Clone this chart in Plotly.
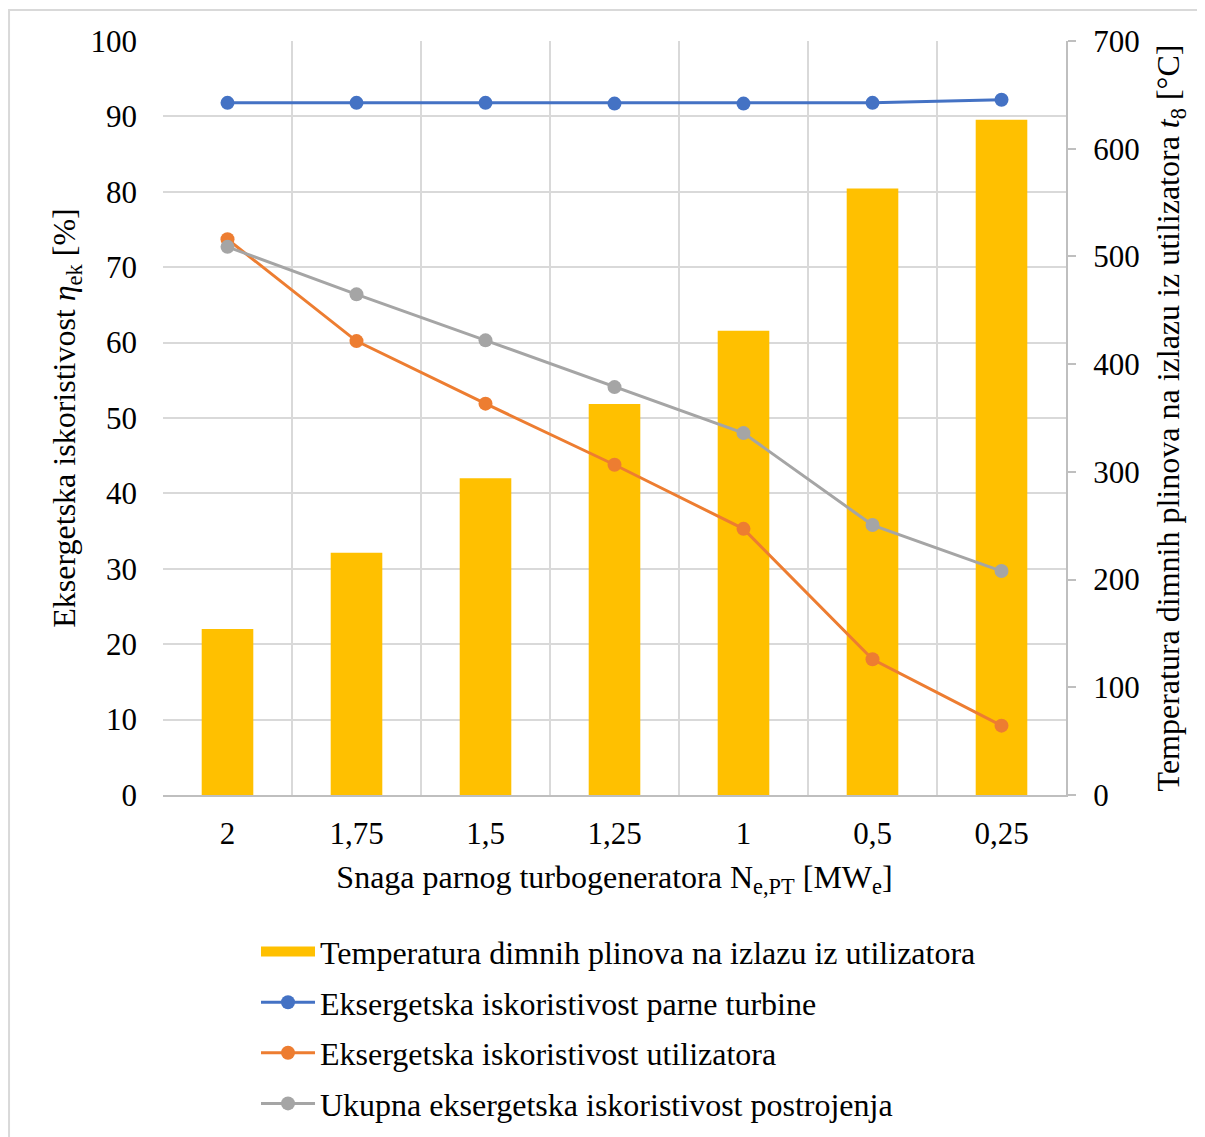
import plotly.graph_objects as go

# snaga parnog turbogeneratora [MWe]
snaga = ["2", "1,75", "1,5", "1,25", "1", "0,5", "0,25"]

# temperatura dimnih plinova na izlazu iz utilizatora [°C]
temp_t8 = [154, 225, 294, 363, 431, 563, 627]

# eksergetske iskoristivosti [%]
eta_pt = [91.8, 91.8, 91.8, 91.7, 91.7, 91.8, 92.2]
eta_util = [73.7, 60.2, 51.9, 43.8, 35.3, 18.0, 9.2]
eta_ukupno = [72.7, 66.4, 60.3, 54.1, 48.0, 35.8, 29.7]

FONT = "Liberation Serif, Times New Roman, serif"
GRID = "#d9d9d9"
AXIS = "#bfbfbf"
TICK = 31
TXT = 32

fig = go.Figure()

fig.add_trace(
    go.Bar(
        x=snaga,
        y=temp_t8,
        name="Temperatura dimnih plinova na izlazu iz utilizatora",
        marker=dict(color="#FFC000", line=dict(width=0)),
        yaxis="y",
        showlegend=False,
        legendgroup="a",
    )
)
# legenda za stupce kao siroki pravokutnik
fig.add_trace(
    go.Scatter(
        x=[None],
        y=[None],
        name="Temperatura dimnih plinova na izlazu iz utilizatora",
        mode="lines",
        line=dict(color="#FFC000", width=10),
        yaxis="y",
        legendgroup="a",
    )
)

linije = [
    (eta_pt, "Eksergetska iskoristivost parne turbine", "#4472C4", "b"),
    (eta_util, "Eksergetska iskoristivost utilizatora", "#ED7D31", "c"),
    (eta_ukupno, "Ukupna eksergetska iskoristivost postrojenja", "#A5A5A5", "d"),
]
for vals, name, color, grp in linije:
    fig.add_trace(
        go.Scatter(
            x=snaga,
            y=vals,
            name=name,
            mode="lines+markers",
            line=dict(color=color, width=3),
            marker=dict(color=color, size=14),
            yaxis="y2",
            legendgroup=grp,
        )
    )

fig.update_layout(
    width=1197,
    height=1129,
    paper_bgcolor="white",
    plot_bgcolor="white",
    margin=dict(l=155, r=139, t=33, b=342, autoexpand=False),
    font=dict(family=FONT, size=TXT, color="black"),
    bargap=0.6,
    showlegend=True,
    legend=dict(
        x=0.103,
        xanchor="left",
        y=-0.1715,
        yanchor="top",
        font=dict(size=TXT),
        itemwidth=54,
        tracegroupgap=6,
        traceorder="grouped",
        bgcolor="rgba(0,0,0,0)",
    ),
    xaxis=dict(
        type="category",
        tickson="boundaries",
        ticks="",
        showgrid=True,
        gridcolor=GRID,
        gridwidth=2,
        showline=True,
        linecolor=AXIS,
        linewidth=2,
        tickfont=dict(size=TICK),
        ticklabelstandoff=10,
        title=dict(
            text="Snaga parnog turbogeneratora N<sub>e,PT</sub> [MW<sub>e</sub>]",
            font=dict(size=TXT),
            standoff=15,
        ),
    ),
    # desna os - temperatura (stupci)
    yaxis=dict(
        side="right",
        range=[0, 700],
        dtick=100,
        showgrid=False,
        zeroline=False,
        showline=True,
        linecolor=AXIS,
        linewidth=2,
        ticks="outside",
        ticklen=8,
        tickcolor=AXIS,
        tickwidth=2,
        tickfont=dict(size=TICK),
        ticklabelstandoff=11,
        title=dict(
            text="Temperatura dimnih plinova na izlazu iz utilizatora <i>t</i><sub>8</sub> [°C]",
            font=dict(size=TXT),
            standoff=18,
        ),
    ),
    # lijeva os - iskoristivost (linije)
    yaxis2=dict(
        overlaying="y",
        side="left",
        range=[0, 100],
        dtick=10,
        showgrid=True,
        gridcolor=GRID,
        gridwidth=2,
        zeroline=False,
        showline=False,
        ticks="",
        tickfont=dict(size=TICK),
        ticklabelstandoff=25,
        title=dict(
            text="Eksergetska iskoristivost <i>η</i><sub>ek</sub> [%]",
            font=dict(size=TXT),
            standoff=5,
        ),
    ),
)

# okvir grafikona
fig.add_shape(
    type="rect",
    xref="paper",
    yref="paper",
    x0=-0.1705,
    x1=1.16,
    y0=-0.47,
    y1=1.041,
    line=dict(color="#d9d9d9", width=2),
    layer="below",
)

fig.write_html("out.html")
